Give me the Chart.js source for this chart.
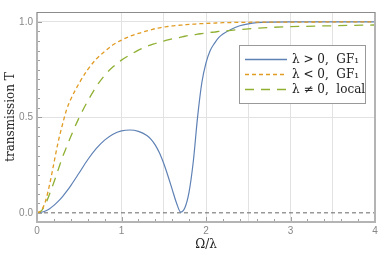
<!DOCTYPE html>
<html>
<head>
<meta charset="utf-8">
<script src="https://cdn.jsdelivr.net/npm/chart.js@4"></script>
<style>
  html, body { margin: 0; padding: 0; background: #fff; }
  #chart { display: block; }
</style>
</head>
<body>
<canvas id="chart" width="390" height="257"></canvas>
<script>
// sample positions (Omega / lambda)
const omega = [0, 0.05, 0.1, 0.15, 0.2, 0.25, 0.3, 0.35, 0.4, 0.5, 0.6, 0.7, 0.8, 0.9, 1.0,
  1.1, 1.2, 1.3, 1.35, 1.4, 1.45, 1.5, 1.55, 1.6, 1.65, 1.7, 1.75, 1.8, 1.85, 1.9, 1.95, 2.0,
  2.05, 2.1, 2.15, 2.2, 2.3, 2.4, 2.5, 2.6, 2.8, 3.0, 3.5, 4.0];

// lambda > 0, GF1
const tPosGF = [0, 0.003, 0.01, 0.022, 0.039, 0.06, 0.084, 0.112, 0.143, 0.21, 0.278, 0.336, 0.381, 0.412, 0.429,
  0.434, 0.427, 0.405, 0.385, 0.355, 0.313, 0.258, 0.193, 0.123, 0.053, 0.004, 0.027, 0.11, 0.27, 0.5, 0.68, 0.785,
  0.85, 0.888, 0.918, 0.937, 0.962, 0.98, 0.99, 0.996, 0.999, 1, 1, 1];

// lambda < 0, GF1
const tNegGF = [0, 0.012, 0.06, 0.15, 0.26, 0.37, 0.46, 0.54, 0.595, 0.68, 0.75, 0.805, 0.845, 0.88, 0.905,
  0.925, 0.94, 0.953, 0.959, 0.965, 0.969, 0.973, 0.976, 0.979, 0.981, 0.983, 0.985, 0.987, 0.988, 0.99, 0.991, 0.992,
  0.993, 0.994, 0.995, 0.996, 0.997, 0.998, 0.998, 0.999, 0.999, 0.999, 1, 1];

// lambda != 0, local
const tLocal = [0, 0.01, 0.045, 0.1, 0.16, 0.225, 0.29, 0.345, 0.4, 0.5, 0.585, 0.66, 0.72, 0.765, 0.8,
  0.827, 0.852, 0.872, 0.88, 0.887, 0.894, 0.9, 0.906, 0.911, 0.915, 0.92, 0.925, 0.929, 0.932, 0.936, 0.939, 0.942,
  0.945, 0.947, 0.95, 0.952, 0.956, 0.96, 0.964, 0.967, 0.972, 0.975, 0.98, 0.984];

const zeroX = [0, 4];
const zeroY = [0, 0];

const xTicks = [0, 1, 2, 3, 4];
const yTicks = [0, 0.5, 1];
const xGrid = [1, 1.5, 2, 2.5, 3, 3.5];
const yGrid = [0.5, 1];

const legendLabels = ['λ > 0,  GF₁', 'λ < 0,  GF₁', 'λ ≠ 0,  local'];

const blue = '#5e81b5';
const orange = '#e19c24';
const green = '#8fb032';

const pts = (xs, ys) => xs.map((x, i) => ({ x: x, y: ys[i] }));

// frame, inward ticks and the boxed legend
const decor = {
  id: 'decor',
  afterDraw(chart) {
    const ctx = chart.ctx;
    const a = chart.chartArea;
    const sx = chart.scales.x, sy = chart.scales.y;
    ctx.save();

    // minor / major ticks pointing inward
    ctx.strokeStyle = '#a0a0a0';
    ctx.lineWidth = 1;
    ctx.beginPath();
    for (let i = 0; i <= 20; i++) {
      const px = Math.round(sx.getPixelForValue(i * 0.2)) + 0.5;
      const len = i % 5 === 0 ? 5 : 3;
      ctx.moveTo(px, a.bottom);
      ctx.lineTo(px, a.bottom - len);
    }
    for (let i = 0; i <= 20; i++) {
      const py = Math.round(sy.getPixelForValue(i * 0.05)) + 0.5;
      const len = i % 10 === 0 ? 5 : 3;
      ctx.moveTo(a.left, py);
      ctx.lineTo(a.left + len, py);
    }
    ctx.stroke();

    // frame
    ctx.strokeStyle = '#b4b4b4';
    ctx.lineWidth = 2;
    ctx.beginPath();
    ctx.moveTo(a.left, a.top);
    ctx.lineTo(a.left, a.bottom);
    ctx.lineTo(a.right, a.bottom);
    ctx.lineTo(a.right, a.top);
    ctx.stroke();
    ctx.strokeStyle = '#8c8c8c';
    ctx.lineWidth = 1;
    ctx.beginPath();
    ctx.moveTo(a.left, a.top + 0.5);
    ctx.lineTo(a.right, a.top + 0.5);
    ctx.stroke();

    // legend
    const bx = 239, by = 45, bw = 126, bh = 58;
    ctx.fillStyle = '#fff';
    ctx.fillRect(bx, by, bw, bh);
    ctx.strokeStyle = '#999';
    ctx.strokeRect(bx + 0.5, by + 0.5, bw, bh);
    const ds = chart.data.datasets;
    const order = [2, 0, 1];
    ctx.font = '12px "DejaVu Serif"';
    ctx.textBaseline = 'middle';
    order.forEach((di, row) => {
      const d = ds[di];
      const y = by + 14.5 + row * 15;
      ctx.strokeStyle = d.borderColor;
      ctx.lineWidth = 1.3;
      ctx.setLineDash(d.borderDash || []);
      ctx.beginPath();
      ctx.moveTo(bx + 6, y);
      ctx.lineTo(bx + 48, y);
      ctx.stroke();
      ctx.setLineDash([]);
      ctx.fillStyle = '#222';
      ctx.fillText(legendLabels[row], bx + 53, y);
    });
    ctx.restore();
  }
};

new Chart(document.getElementById('chart'), {
  type: 'line',
  data: {
    datasets: [
      { label: legendLabels[1], data: pts(omega, tNegGF), borderColor: orange, borderWidth: 1.3, borderDash: [4, 3] },
      { label: legendLabels[2], data: pts(omega, tLocal), borderColor: green, borderWidth: 1.3, borderDash: [9, 7] },
      { label: legendLabels[0], data: pts(omega, tPosGF), borderColor: blue, borderWidth: 1.2 },
      { label: 'zero', data: pts(zeroX, zeroY), borderColor: '#666', borderWidth: 1, borderDash: [4, 3] }
    ]
  },
  options: {
    responsive: false,
    animation: false,
    devicePixelRatio: 1,
    layout: { padding: { top: 12, right: 15, left: 0, bottom: 0 } },
    elements: {
      point: { radius: 0 },
      line: { cubicInterpolationMode: 'monotone', fill: false }
    },
    plugins: { legend: { display: false }, tooltip: { enabled: false } },
    scales: {
      x: {
        type: 'linear',
        min: 0,
        max: 4,
        afterFit: s => { s.height = 35; },
        afterBuildTicks: s => { s.ticks = [0, 0.5, 1, 1.5, 2, 2.5, 3, 3.5, 4].map(v => ({ value: v })); },
        ticks: {
          color: '#888',
          font: { family: 'Liberation Sans', size: 10 },
          padding: 3,
          maxRotation: 0,
          autoSkip: false,
          callback: v => xTicks.includes(v) ? String(v) : ''
        },
        grid: {
          drawTicks: false,
          color: c => xGrid.includes(c.tick.value) ? '#e2e2e2' : 'rgba(0,0,0,0)'
        },
        border: { display: false },
        title: {
          display: true,
          text: 'Ω/λ',
          color: '#222',
          font: { family: 'DejaVu Serif', size: 12 },
          padding: { top: 0, bottom: 5 }
        }
      },
      y: {
        min: -0.048,
        max: 1.052,
        afterFit: s => { s.width = 37; },
        afterBuildTicks: s => { s.ticks = yTicks.map(v => ({ value: v })); },
        ticks: {
          color: '#888',
          font: { family: 'Liberation Sans', size: 10 },
          padding: 4,
          callback: v => v.toFixed(1)
        },
        grid: {
          drawTicks: false,
          color: c => yGrid.includes(c.tick.value) ? '#e2e2e2' : 'rgba(0,0,0,0)'
        },
        border: { display: false },
        title: {
          display: true,
          text: 'transmission T',
          color: '#222',
          font: { family: 'DejaVu Serif', size: 12 },
          padding: { top: 4, bottom: 4 }
        }
      }
    }
  },
  plugins: [decor]
});
</script>
</body>
</html>
